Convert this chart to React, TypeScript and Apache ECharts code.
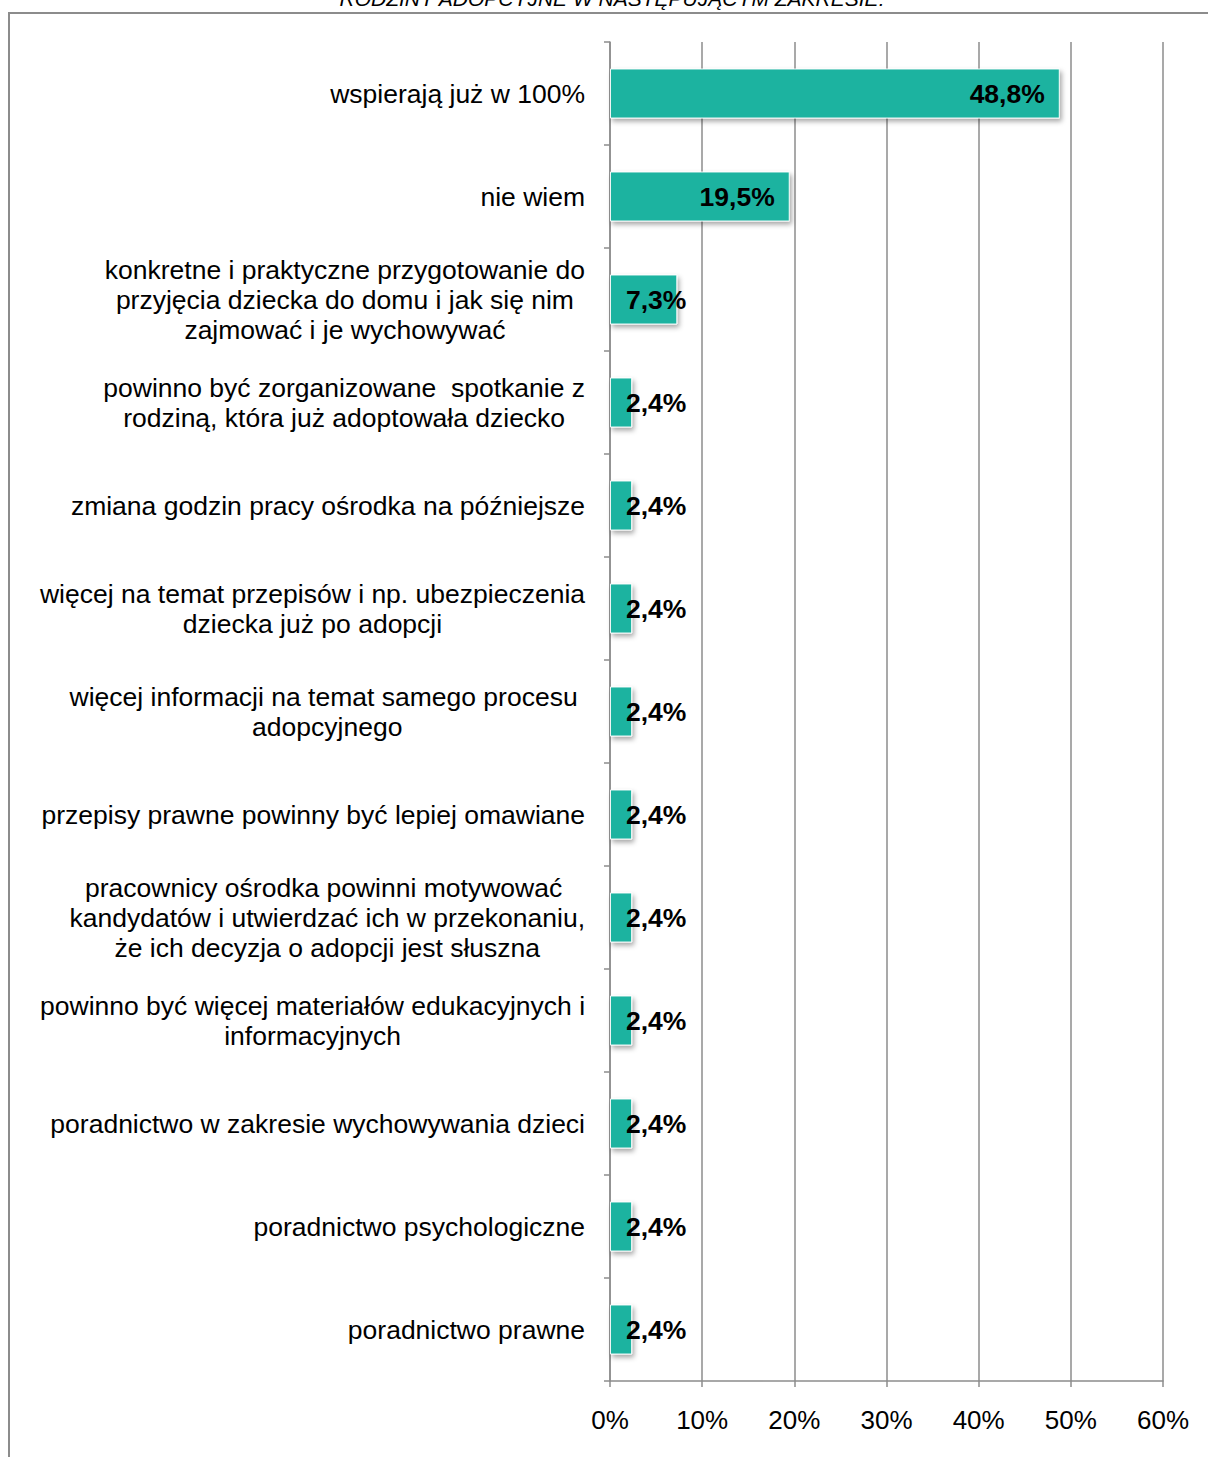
import React, { useEffect, useRef } from "react";
import * as echarts from "echarts";

const titleText = "RODZINY ADOPCYJNE W NASTĘPUJĄCYM ZAKRESIE:";

const categories = [
  "wspierają już w 100%",
  "nie wiem",
  "konkretne i praktyczne przygotowanie do\nprzyjęcia dziecka do domu i jak się nim\nzajmować i je wychowywać",
  "powinno być zorganizowane  spotkanie z\nrodziną, która już adoptowała dziecko",
  "zmiana godzin pracy ośrodka na późniejsze",
  "więcej na temat przepisów i np. ubezpieczenia\ndziecka już po adopcji",
  "więcej informacji na temat samego procesu \nadopcyjnego",
  "przepisy prawne powinny być lepiej omawiane",
  "pracownicy ośrodka powinni motywować \nkandydatów i utwierdzać ich w przekonaniu,\nże ich decyzja o adopcji jest słuszna",
  "powinno być więcej materiałów edukacyjnych i\ninformacyjnych",
  "poradnictwo w zakresie wychowywania dzieci",
  "poradnictwo psychologiczne",
  "poradnictwo prawne",
];

const values = [48.8, 19.5, 7.3, 2.4, 2.4, 2.4, 2.4, 2.4, 2.4, 2.4, 2.4, 2.4, 2.4];

const xTicks = { min: 0, max: 60, interval: 10 };

const FONT = '"Liberation Sans", Arial, sans-serif';
const GRAY = "#8c8c8c";
const BAR = "#1cb3a0";

export default function App() {
  const ref = useRef<HTMLDivElement>(null);

  useEffect(() => {
    if (!ref.current) return;
    const chart = echarts.init(ref.current, undefined, { renderer: "svg" });

    const data = values.map((v) => {
      const small = v < 10;
      return {
        value: v,
        label: small
          ? { position: [16, "50%"], align: "left", verticalAlign: "middle" }
          : { position: "insideRight", distance: 15 },
      };
    });

    chart.setOption({
      animation: false,
      backgroundColor: "#ffffff",
      textStyle: { fontFamily: FONT },
      grid: { left: 610, right: 45, top: 42, bottom: 76, containLabel: false },
      xAxis: {
        type: "value",
        min: xTicks.min,
        max: xTicks.max,
        interval: xTicks.interval,
        axisLine: { show: true, lineStyle: { color: GRAY, width: 1.5 } },
        axisTick: { show: true, length: 6, lineStyle: { color: GRAY, width: 1.5 } },
        splitLine: { show: true, lineStyle: { color: GRAY, width: 1.5 } },
        axisLabel: {
          formatter: "{value}%",
          fontSize: 26,
          color: "#000",
          fontFamily: FONT,
          margin: 26,
        },
      },
      yAxis: {
        type: "category",
        data: categories,
        inverse: true,
        axisLine: { show: true, lineStyle: { color: GRAY, width: 1.5 } },
        axisTick: { show: true, length: 6, alignWithLabel: false, lineStyle: { color: GRAY, width: 1.5 } },
        splitLine: { show: false },
        axisLabel: {
          margin: 25,
          align: "right",
          color: "#000",
          fontSize: 26.5,
          lineHeight: 30,
          fontFamily: FONT,
          formatter: (v: string) =>
            v
              .split("\n")
              .map((line) => `{c|${line}}`)
              .join("\n"),
          rich: {
            c: {
              align: "center",
              fontSize: 26.5,
              lineHeight: 30,
              color: "#000",
              fontFamily: FONT,
            },
          },
        },
      },
      series: [
        {
          type: "bar",
          data,
          barWidth: 50,
          itemStyle: {
            color: BAR,
            borderColor: "rgba(255,255,255,0.9)",
            borderWidth: 1,
            shadowColor: "rgba(0,0,0,0.35)",
            shadowBlur: 5,
            shadowOffsetX: 2,
            shadowOffsetY: 3,
          },
          label: {
            show: true,
            fontSize: 26.5,
            fontWeight: "bold",
            color: "#000",
            fontFamily: FONT,
            formatter: (p: any) => p.value.toFixed(1).replace(".", ",") + "%",
          },
        },
      ],
      graphic: [
        {
          type: "polyline",
          silent: true,
          shape: { points: [[9, 1500], [9, 13], [1260, 13]] },
          style: { stroke: GRAY, lineWidth: 2, fill: null },
        },
        {
          type: "text",
          silent: true,
          x: 612,
          y: -2,
          style: {
            text: titleText,
            fontSize: 21,
            fontStyle: "italic",
            fontFamily: FONT,
            fill: "#000",
            align: "center",
            verticalAlign: "middle",
          },
        },
      ],
    });

    return () => chart.dispose();
  }, []);

  return (
    <div
      ref={ref}
      style={{ position: "absolute", left: 0, top: 0, width: 1208, height: 1457 }}
    />
  );
}
